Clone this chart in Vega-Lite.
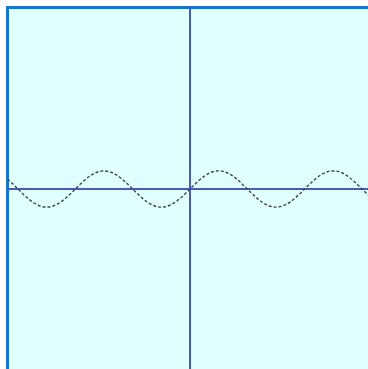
{
  "$schema": "https://vega.github.io/schema/vega-lite/v6.json",
  "width": 365,
  "height": 363,
  "autosize": {"type": "none"},
  "padding": {"left": 7.5, "top": 7.5, "right": 0, "bottom": 0},
  "background": "white",
  "config": {"view": {"stroke": "#1874cd", "strokeWidth": 3, "fill": "#e0ffff"}},
  "datasets": {
    "curve": [
      {"x": -10, "y": 0.544}, {"x": -9.75, "y": 0.3195}, {"x": -9.5, "y": 0.0752}, {"x": -9.25, "y": -0.1743},
      {"x": -9, "y": -0.4121}, {"x": -8.75, "y": -0.6247}, {"x": -8.5, "y": -0.7985}, {"x": -8.25, "y": -0.9228},
      {"x": -8, "y": -0.9894}, {"x": -7.75, "y": -0.9946}, {"x": -7.5, "y": -0.938}, {"x": -7.25, "y": -0.8231},
      {"x": -7, "y": -0.657}, {"x": -6.75, "y": -0.45}, {"x": -6.5, "y": -0.2151}, {"x": -6.25, "y": 0.0332},
      {"x": -6, "y": 0.2794}, {"x": -5.75, "y": 0.5079}, {"x": -5.5, "y": 0.7055}, {"x": -5.25, "y": 0.8589},
      {"x": -5, "y": 0.9589}, {"x": -4.75, "y": 0.9993}, {"x": -4.5, "y": 0.9775}, {"x": -4.25, "y": 0.895},
      {"x": -4, "y": 0.7568}, {"x": -3.75, "y": 0.5716}, {"x": -3.5, "y": 0.3508}, {"x": -3.25, "y": 0.1082},
      {"x": -3, "y": -0.1411}, {"x": -2.75, "y": -0.3817}, {"x": -2.5, "y": -0.5985}, {"x": -2.25, "y": -0.7781},
      {"x": -2, "y": -0.9093}, {"x": -1.75, "y": -0.984}, {"x": -1.5, "y": -0.9975}, {"x": -1.25, "y": -0.949},
      {"x": -1, "y": -0.8415}, {"x": -0.75, "y": -0.6816}, {"x": -0.5, "y": -0.4794}, {"x": -0.25, "y": -0.2474},
      {"x": 0, "y": 0},
      {"x": 0.25, "y": 0.2474}, {"x": 0.5, "y": 0.4794}, {"x": 0.75, "y": 0.6816}, {"x": 1, "y": 0.8415},
      {"x": 1.25, "y": 0.949}, {"x": 1.5, "y": 0.9975}, {"x": 1.75, "y": 0.984}, {"x": 2, "y": 0.9093},
      {"x": 2.25, "y": 0.7781}, {"x": 2.5, "y": 0.5985}, {"x": 2.75, "y": 0.3817}, {"x": 3, "y": 0.1411},
      {"x": 3.25, "y": -0.1082}, {"x": 3.5, "y": -0.3508}, {"x": 3.75, "y": -0.5716}, {"x": 4, "y": -0.7568},
      {"x": 4.25, "y": -0.895}, {"x": 4.5, "y": -0.9775}, {"x": 4.75, "y": -0.9993}, {"x": 5, "y": -0.9589},
      {"x": 5.25, "y": -0.8589}, {"x": 5.5, "y": -0.7055}, {"x": 5.75, "y": -0.5079}, {"x": 6, "y": -0.2794},
      {"x": 6.25, "y": -0.0332}, {"x": 6.5, "y": 0.2151}, {"x": 6.75, "y": 0.45}, {"x": 7, "y": 0.657},
      {"x": 7.25, "y": 0.8231}, {"x": 7.5, "y": 0.938}, {"x": 7.75, "y": 0.9946}, {"x": 8, "y": 0.9894},
      {"x": 8.25, "y": 0.9228}, {"x": 8.5, "y": 0.7985}, {"x": 8.75, "y": 0.6247}, {"x": 9, "y": 0.4121},
      {"x": 9.25, "y": 0.1743}, {"x": 9.5, "y": -0.0752}, {"x": 9.75, "y": -0.3195}, {"x": 10, "y": -0.544}
    ]
  },
  "data": {"name": "curve"},
  "layer": [
    {
      "mark": {"type": "rule", "color": "#4b5ab5", "strokeWidth": 2},
      "encoding": {"x": {"datum": 0, "type": "quantitative", "scale": {"domain": [-10, 10], "nice": false, "zero": false}, "axis": null}}
    },
    {
      "mark": {"type": "rule", "color": "#4b5ab5", "strokeWidth": 2},
      "encoding": {"y": {"datum": 0, "type": "quantitative", "scale": {"domain": [-10, 10], "nice": false, "zero": false}, "axis": null}}
    },
    {
      "mark": {"type": "line", "color": "#444444", "strokeWidth": 1.4, "strokeDash": [3, 2], "interpolate": "monotone", "clip": true},
      "encoding": {
        "x": {"field": "x", "type": "quantitative", "scale": {"domain": [-10, 10], "nice": false, "zero": false}, "axis": null},
        "y": {"field": "y", "type": "quantitative", "scale": {"domain": [-10, 10], "nice": false, "zero": false}, "axis": null}
      }
    }
  ]
}
